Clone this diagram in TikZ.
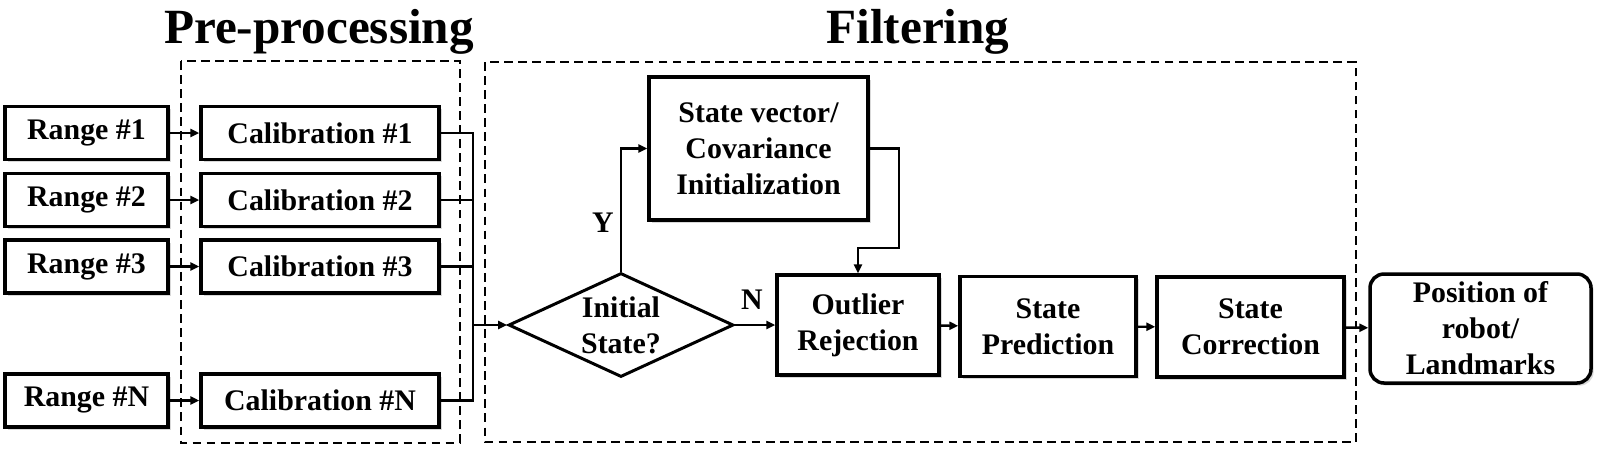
\documentclass[tikz,border=0pt]{standalone}
\usepackage{fontspec}
\setmainfont{Liberation Serif}
\usetikzlibrary{arrows.meta, shapes.geometric, positioning, calc, shadows}

\begin{document}
\begin{tikzpicture}[
    box/.style={draw=black,fill=white,line width=2pt,align=center,
                font=\bfseries\fontsize{17}{20.5}\selectfont,inner sep=2pt,
                drop shadow={shadow xshift=1.5pt,shadow yshift=-1.5pt,opacity=0.3}},
    rangebox/.style={box,minimum width=3.26cm,minimum height=1.06cm},
    calbox/.style={box,minimum width=4.76cm,minimum height=1.06cm},
    procbox/.style={box,minimum height=2.0cm},
    decision/.style={draw=black,fill=white,diamond,line width=1.7pt,aspect=2.16,
                     inner sep=0pt,minimum width=4.5cm,minimum height=2.08cm,align=center,
                     font=\bfseries\fontsize{17}{20.5}\selectfont},
    outbox/.style={box,rounded corners=0.28cm,minimum width=4.42cm,minimum height=2.18cm},
    group/.style={draw=black,line width=1.6pt,dash pattern=on 5pt off 3pt},
    grouptitle/.style={anchor=base,font=\bfseries\fontsize{28}{30}\selectfont},
    lbl/.style={font=\bfseries\fontsize{17}{20}\selectfont},
    arr/.style={-{Triangle[length=5pt,width=4.5pt]},line width=1.4pt},
    wire/.style={line width=1.4pt}
  ]
    \useasboundingbox (0,0) rectangle (31.98,-9.02);
    % group frames
    \draw[group] (3.62,-1.22) rectangle (9.2,-8.86);
    \draw[group] (9.7,-1.24) rectangle (27.12,-8.84);
    \node[grouptitle] (pretitle) at (6.38,-0.86) {Pre-processing};
    \node[grouptitle] (filtitle) at (18.36,-0.86) {Filtering};
    % sensors and calibration
    \node[rangebox] (range1) at (1.73,-2.66) {Range \#1};
    \node[rangebox] (range2) at (1.73,-4.0) {Range \#2};
    \node[rangebox] (range3) at (1.73,-5.33) {Range \#3};
    \node[rangebox] (rangeN) at (1.73,-8.01) {Range \#N};
    \node[calbox] (cal1) at (6.4,-2.66) {Calibration \#1};
    \node[calbox] (cal2) at (6.4,-4.0) {Calibration \#2};
    \node[calbox] (cal3) at (6.4,-5.33) {Calibration \#3};
    \node[calbox] (calN) at (6.4,-8.01) {Calibration \#N};
    \coordinate (bus) at (9.46,-6.5);
    % filter
    \node[decision] (isinit) at (12.42,-6.5) {Initial\\State?};
    \node[procbox,minimum width=4.38cm,minimum height=2.86cm] (init) at (15.17,-2.97)
      {State vector/\\Covariance\\Initialization};
    \node[procbox,minimum width=3.24cm] (outlier) at (17.16,-6.5) {Outlier\\Rejection};
    \node[procbox,minimum width=3.52cm] (predict) at (20.96,-6.53) {State\\Prediction};
    \node[procbox,minimum width=3.74cm] (correct) at (25.01,-6.54) {State\\Correction};
    \node[outbox] (result) at (29.61,-6.57) {Position of\\robot/\\Landmarks};
    \node[lbl] (yes) at (12.06,-4.46) {Y};
    \node[lbl] (no) at (15.04,-6.0) {N};
    % connectors
    \draw[arr] (range1)--(cal1);
    \draw[arr] (range2)--(cal2);
    \draw[arr] (range3)--(cal3);
    \draw[arr] (rangeN)--(calN);
    \draw[wire] (cal1.east) -| (bus);
    \draw[wire] (cal2.east) -| (bus);
    \draw[wire] (cal3.east) -| (bus);
    \draw[wire] (calN.east) -| (bus);
    \draw[arr] (bus)--(isinit.west);
    \draw[arr] (isinit.north) |- (init.west);
    \draw[arr] (init.east) -| ++(0.58,-1.99) -| (outlier.north);
    \draw[arr] (isinit.east)--(outlier.west);
    \draw[arr] (outlier)--(predict);
    \draw[arr] (predict)--(correct);
    \draw[arr] (correct)--(result);
  \end{tikzpicture}
\end{document}
